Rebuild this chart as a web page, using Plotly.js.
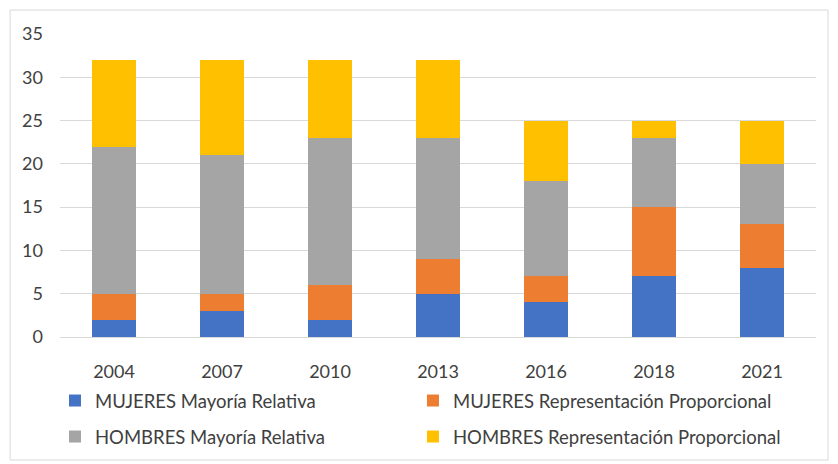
<!DOCTYPE html>
<html>
<head>
<meta charset="utf-8">
<script src="https://cdn.plot.ly/plotly-3.0.1.min.js"></script>
<style>
html,body{margin:0;padding:0;background:#fff;}
#chart{width:838px;height:464px;}
</style>
</head>
<body>
<div id="chart"></div>
<script>
const years = ['2004','2007','2010','2013','2016','2018','2021'];
const mujeresMR = [2, 3, 2, 5, 4, 7, 8];
const mujeresRP = [3, 2, 4, 4, 3, 8, 5];
const hombresMR = [17, 16, 17, 14, 11, 8, 7];
const hombresRP = [10, 11, 9, 9, 7, 2, 5];
const seriesNames = ['MUJERES Mayoría Relativa','MUJERES Representación Proporcional','HOMBRES Mayoría Relativa','HOMBRES Representación Proporcional'];
const colors = ['#4472C4','#ED7D31','#A5A5A5','#FFC000'];
const yTicks = [0,5,10,15,20,25,30,35];

const seriesData = [mujeresMR, mujeresRP, hombresMR, hombresRP];
const legendIds = ['legend','legend2','legend3','legend4'];
const traces = seriesData.map((v,i)=>({
  type:'bar', x:years, y:v, name:seriesNames[i], legend:legendIds[i],
  marker:{color:colors[i], line:{width:0}},
  hoverinfo:'x+y+name'
}));

const fontFam = 'Lato, Roboto, sans-serif';
const legendCommon = {orientation:'h', xanchor:'left', yanchor:'middle', xref:'container', yref:'container',
  traceorder:'normal', bgcolor:'rgba(0,0,0,0)', font:{size:18.5, color:'#404040'}, itemwidth:30};
const col1 = 0.0656, col2 = 0.4928, row1 = 0.1358, row2 = 0.0582;
const layout = {
  width:838, height:464,
  margin:{l:60, r:22, t:34, b:127},
  barmode:'stack',
  bargap:0.6,
  paper_bgcolor:'#fff', plot_bgcolor:'#fff',
  font:{family:fontFam, size:18, color:'#404040'},
  xaxis:{type:'category', showgrid:false, showline:true, linecolor:'#d9d9d9', linewidth:1,
         ticks:'', ticklabelstandoff:18, tickfont:{size:18, color:'#404040'}},
  yaxis:{range:[0,35], tickvals:yTicks, showgrid:true, gridcolor:'#d9d9d9', gridwidth:1,
         zeroline:true, zerolinecolor:'#d9d9d9', ticks:'', ticklabelstandoff:16,
         tickfont:{size:18, color:'#404040'}},
  showlegend:true,
  legend:Object.assign({}, legendCommon, {x:col1, y:row1}),
  legend2:Object.assign({}, legendCommon, {x:col2, y:row1}),
  legend3:Object.assign({}, legendCommon, {x:col1, y:row2}),
  legend4:Object.assign({}, legendCommon, {x:col2, y:row2}),
  shapes:[{type:'rect', xref:'paper', yref:'paper', x0:-0.066, x1:1.0159, y0:-0.406, y1:1.079,
           line:{color:'#d9d9d9', width:1}, layer:'below'}]
};
Plotly.newPlot('chart', traces, layout, {displayModeBar:false, staticPlot:true});
</script>
</body>
</html>
